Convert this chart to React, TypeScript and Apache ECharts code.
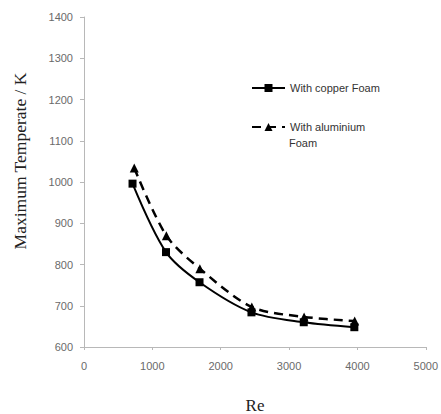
import React, { useEffect, useRef } from "react";
import * as echarts from "echarts";

const reCopper = [710, 1200, 1690, 2450, 3215, 3955];
const tempCopper = [996, 830, 757, 684, 660, 648];
const reAlu = [735, 1205, 1695, 2455, 3220, 3960];
const tempAlu = [1034, 870, 790, 697, 673, 663];
const seriesNames = ["With copper Foam", "With aluminium Foam"];
const legendFirstLines = ["With copper Foam", "With aluminium"];
const legendSecondLine = "Foam";
const yAxisTitle = "Maximum Temperate / K";
const xAxisTitle = "Re";

export default function App() {
  const ref = useRef<HTMLDivElement>(null);
  useEffect(() => {
    if (!ref.current) return;
    const chart = echarts.init(ref.current, undefined, { renderer: "svg" });
    const tickFont = { fontFamily: "Liberation Sans", fontSize: 11, color: "#6a6a6a" };
    const legendText = { fontFamily: "Liberation Sans", fontSize: 11, color: "#333", lineHeight: 12 };
    const legendBase = {
      orient: "horizontal",
      left: 251,
      padding: 0,
      itemWidth: 33,
      itemHeight: 10,
      textStyle: legendText,
      formatter: (name: string) => legendFirstLines[seriesNames.indexOf(name)],
    };
    chart.setOption({
      animation: false,
      backgroundColor: "#ffffff",
      grid: { left: 84, right: 12, top: 17, bottom: 67 },
      xAxis: {
        type: "value",
        min: 0,
        max: 5000,
        interval: 1000,
        axisLine: { lineStyle: { color: "#b8b8b8", width: 1 } },
        axisTick: { show: true, length: 3, lineStyle: { color: "#b8b8b8" } },
        splitLine: { show: false },
        axisLabel: { ...tickFont, margin: 13, formatter: (v: number) => String(v) },
      },
      yAxis: {
        type: "value",
        min: 600,
        max: 1400,
        interval: 100,
        axisLine: { show: true, lineStyle: { color: "#b8b8b8", width: 1 } },
        axisTick: { show: true, length: 4, lineStyle: { color: "#b8b8b8" } },
        splitLine: { show: false },
        axisLabel: { ...tickFont, margin: 11, formatter: (v: number) => String(v) },
      },
      legend: [
        { ...legendBase, top: 82, data: [seriesNames[0]] },
        { ...legendBase, top: 121, data: [seriesNames[1]] },
      ],
      graphic: [
        {
          type: "text",
          x: 20,
          y: 161,
          rotation: Math.PI / 2,
          style: {
            text: yAxisTitle,
            font: "17.5px 'Liberation Serif'",
            fill: "#222",
            textAlign: "center",
            textVerticalAlign: "middle",
          },
        },
        {
          type: "text",
          x: 255,
          y: 405,
          style: {
            text: xAxisTitle,
            font: "17px 'Liberation Serif'",
            fill: "#222",
            textAlign: "center",
            textVerticalAlign: "middle",
          },
        },
        {
          type: "text",
          x: 289,
          y: 143,
          style: {
            text: legendSecondLine,
            font: "11px 'Liberation Sans'",
            fill: "#333",
            textAlign: "left",
            textVerticalAlign: "middle",
          },
        },
      ],
      series: [
        {
          name: seriesNames[0],
          type: "line",
          smooth: 0.3,
          data: reCopper.map((r, i) => [r, tempCopper[i]]),
          symbol: "rect",
          symbolSize: 8,
          itemStyle: { color: "#000" },
          lineStyle: { color: "#000", width: 2 },
        },
        {
          name: seriesNames[1],
          type: "line",
          smooth: 0.3,
          data: reAlu.map((r, i) => [r, tempAlu[i]]),
          symbol: "triangle",
          symbolSize: 9,
          itemStyle: { color: "#000" },
          lineStyle: { color: "#000", width: 2.5, type: [9, 6] },
        },
      ],
    });
    return () => chart.dispose();
  }, []);
  return <div ref={ref} style={{ width: 441, height: 414, position: "absolute", left: 0, top: 0 }} />;
}
